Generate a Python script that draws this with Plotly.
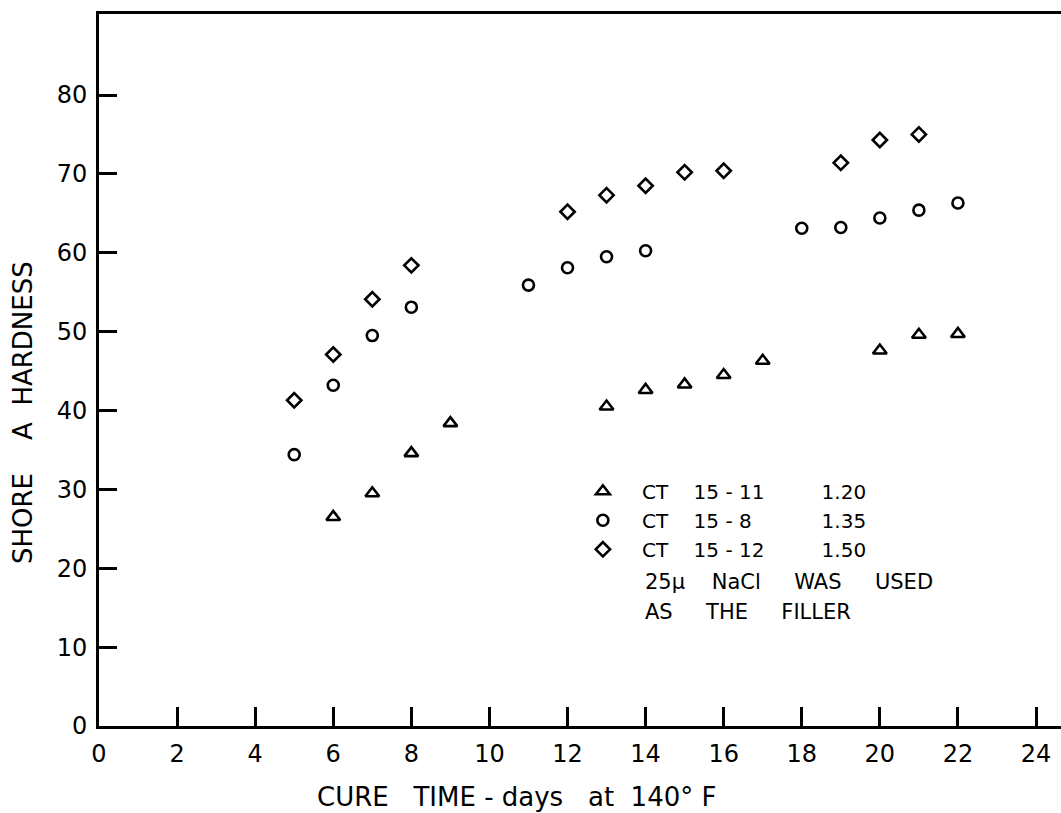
import plotly.graph_objects as go

# Shore A hardness vs. cure time (days at 140 F) for three CT formulations
days_ct1511 = [6, 7, 8, 9, 13, 14, 15, 16, 17, 20, 21, 22]
hard_ct1511 = [26.5, 29.5, 34.6, 38.4, 40.5, 42.6, 43.3, 44.5, 46.3, 47.6, 49.6, 49.7]

days_ct158 = [5, 6, 7, 8, 11, 12, 13, 14, 18, 19, 20, 21, 22]
hard_ct158 = [34.4, 43.2, 49.5, 53.1, 55.9, 58.1, 59.5, 60.25, 63.1, 63.2, 64.4, 65.4, 66.3]

days_ct1512 = [5, 6, 7, 8, 12, 13, 14, 15, 16, 19, 20, 21]
hard_ct1512 = [41.3, 47.1, 54.1, 58.4, 65.2, 67.3, 68.5, 70.2, 70.4, 71.4, 74.3, 75.0]

x_ticks = [0, 2, 4, 6, 8, 10, 12, 14, 16, 18, 20, 22, 24]
y_ticks = [0, 10, 20, 30, 40, 50, 60, 70, 80]

NB = "\u00a0"
series_names = [
    NB * 3 + "CT" + NB * 4 + "15" + NB + "-" + NB + "11" + NB * 9 + "1.20",
    NB * 3 + "CT" + NB * 4 + "15" + NB + "-" + NB + "8" + NB * 11 + "1.35",
    NB * 3 + "CT" + NB * 4 + "15" + NB + "-" + NB + "12" + NB * 9 + "1.50",
]
note_lines = [
    "25μ" + NB * 4 + "NaCl" + NB * 5 + "WAS" + NB * 5 + "USED",
    "AS" + NB * 5 + "THE" + NB * 5 + "FILLER",
]

FONT = "DejaVu Sans"
INK = "black"

fig = go.Figure()
for xs, ys, sym, size, name in [
    (days_ct1511, hard_ct1511, "triangle-up-open", 12, series_names[0]),
    (days_ct158, hard_ct158, "circle-open", 11, series_names[1]),
    (days_ct1512, hard_ct1512, "diamond-open", 11, series_names[2]),
]:
    fig.add_trace(go.Scatter(
        x=xs, y=ys, mode="markers", name=name,
        marker=dict(symbol=sym, size=size, color=INK, line=dict(color=INK, width=2.6)),
    ))

W, H = 1061, 813
ML, MT, MB = 99, 14, 87

fig.update_layout(
    width=W, height=H,
    margin=dict(l=ML, r=0, t=MT, b=MB),
    paper_bgcolor="white", plot_bgcolor="white",
    font=dict(family=FONT, color=INK),
    showlegend=True,
    legend=dict(
        x=0.503, y=0.357, xanchor="left", yanchor="top",
        bgcolor="rgba(0,0,0,0)", font=dict(size=20, family=FONT, color=INK),
        traceorder="normal",
    ),
    xaxis=dict(
        range=[0, 24.64], tickvals=x_ticks, ticktext=[str(v) for v in x_ticks],
        ticks="inside", ticklen=19, tickwidth=2.5, tickcolor=INK,
        showline=True, linewidth=3, linecolor=INK, mirror=True,
        showgrid=False, zeroline=False,
        tickfont=dict(size=24, family=FONT, color=INK),
        ticklabelstandoff=4,
    ),
    yaxis=dict(
        range=[0, 90.27], tickvals=y_ticks, ticktext=[str(v) for v in y_ticks],
        ticks="inside", ticklen=18, tickwidth=2.5, tickcolor=INK,
        showline=True, linewidth=3, linecolor=INK,
        showgrid=False, zeroline=False,
        tickfont=dict(size=24, family=FONT, color=INK),
        ticklabelstandoff=4,
    ),
)

plot_w = W - ML
plot_h = H - MT - MB

# axis titles
fig.add_annotation(
    text="CURE" + NB * 3 + "TIME" + NB + "-" + NB + "days" + NB * 3 + "at" + NB * 2 + "140° F",
    xref="paper", yref="paper", x=(516 - ML) / plot_w, y=-(797 - (H - MB)) / plot_h,
    xanchor="center", yanchor="middle", showarrow=False,
    font=dict(size=26, family=FONT, color=INK),
)
fig.add_annotation(
    text="SHORE" + NB * 4 + "A" + NB * 2 + "HARDNESS",
    xref="paper", yref="paper", x=(23 - ML) / plot_w, y=((H - MB) - 413) / plot_h,
    xanchor="center", yanchor="middle", textangle=-90, showarrow=False,
    font=dict(size=26, family=FONT, color=INK),
)

# note under the legend
for i, line in enumerate(note_lines):
    fig.add_annotation(
        text=line, xref="paper", yref="paper",
        x=(643 - ML) / plot_w, y=((H - MB) - (582 + 30 * i)) / plot_h,
        xanchor="left", yanchor="middle", showarrow=False,
        font=dict(size=21, family=FONT, color=INK),
    )

fig.write_html("out.html")
